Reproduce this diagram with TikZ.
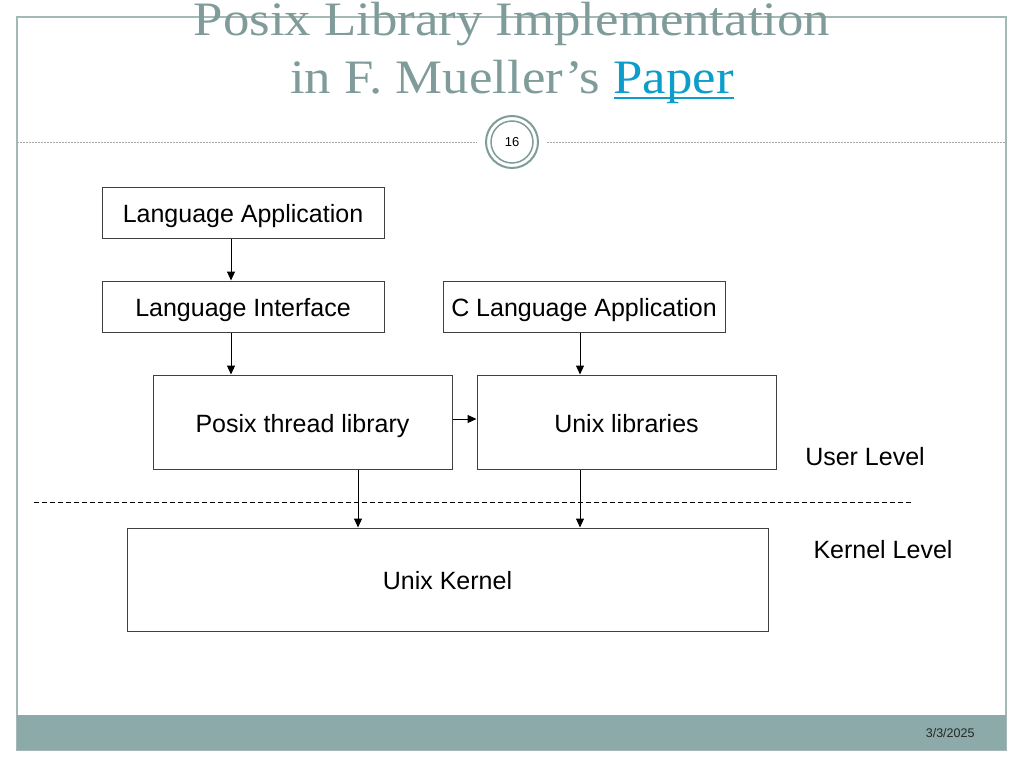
\documentclass[tikz,border=0pt]{standalone}
\usepackage{fontspec}
\setmainfont{Liberation Sans}
\newfontfamily\titlefont[FakeStretch=1.1]{Liberation Serif}
\usetikzlibrary{positioning,arrows.meta}
\definecolor{slideGray}{HTML}{7F9C9A}
\definecolor{frameGray}{HTML}{A3B8B7}
\definecolor{barGray}{HTML}{8CAAAA}
\definecolor{linkBlue}{HTML}{0C9DCB}
\newcommand\linkword[1]{\sbox0{#1}\rlap{\rule[-6pt]{\wd0}{2pt}}\usebox0}

\begin{document}
\begin{tikzpicture}[x=1pt,y=-1pt,
    box/.style={draw=black!75, line width=1pt, inner sep=0pt, text height=20pt, text depth=0pt, font=\fontsize{25}{30}\selectfont},
    wide/.style={box, minimum width=282pt, minimum height=51pt},
    tall/.style={box, minimum width=299pt, minimum height=94pt},
    arr/.style={-{Triangle[length=9pt,width=8pt]}, line width=1pt, black}]
    \path[use as bounding box, fill=white] (0,0) rectangle (1024,768);
    \draw[frameGray, line width=1.5pt] (17,17) rectangle (1006,750);
    \fill[barGray] (17,715) rectangle (1006,750);
    \node[anchor=base, text=slideGray, font=\titlefont\fontsize{48}{56}\selectfont] (titleTop) at (512,36) {Posix Library Implementation};
    \node[anchor=base, text=slideGray, font=\titlefont\fontsize{48}{56}\selectfont] (titleBottom) at (512,93) {in F. Mueller’s \textcolor{linkBlue}{\linkword{Paper}}};
    \node[circle, draw=slideGray, line width=2pt, fill=white, minimum size=52pt, font=\fontsize{13}{15}\selectfont] (pageNo) at (512,142) {16};
    \draw[slideGray, line width=1.5pt] (pageNo.center) circle [radius=21pt];
    \coordinate (headL) at (17,142);
    \coordinate (headR) at (1006,142);
    \draw[gray!70, line width=1pt, dash pattern=on 2pt off 1pt] (headL) -- ([xshift=-8pt]pageNo.west);
    \draw[gray!70, line width=1pt, dash pattern=on 2pt off 1pt] ([xshift=8pt]pageNo.east) -- (headR);
    \node[wide] (langApp) at (243,212.5) {Language Application};
    \node[wide, below=42pt of langApp] (langIface) {Language Interface};
    \node[wide, right=58pt of langIface] (cLangApp) {C Language Application};
    \node[tall] (posixLib) at (302.5,422) {Posix thread library};
    \node[tall, right=24pt of posixLib] (unixLibs) {Unix libraries};
    \node[box, minimum width=641pt, minimum height=103pt] (unixKernel) at (447.5,579.5) {Unix Kernel};
    \draw[arr] ([xshift=-12pt]langApp.south) -- ([xshift=-12pt]langIface.north);
    \draw[arr] ([xshift=-12pt]langIface.south) -- ([xshift=-12pt]langIface.south |- posixLib.north);
    \draw[arr] ([xshift=-4pt]cLangApp.south) -- ([xshift=-4pt]cLangApp.south |- unixLibs.north);
    \draw[arr] ([yshift=3pt]posixLib.east) -- ([yshift=3pt]unixLibs.west);
    \draw[arr] ([xshift=55.5pt]posixLib.south) -- ([xshift=55.5pt]posixLib.south |- unixKernel.north);
    \draw[arr] ([xshift=-46.5pt]unixLibs.south) -- ([xshift=-46.5pt]unixLibs.south |- unixKernel.north);
    \coordinate (levelL) at (34,502);
    \coordinate (levelR) at (912,502);
    \draw[line width=1pt, dash pattern=on 5pt off 3pt] (levelL) -- (levelR);
    \node[font=\fontsize{25}{30}\selectfont] (userLvl) at (865,457) {User Level};
    \node[font=\fontsize{25}{30}\selectfont] (kernelLvl) at (883,550) {Kernel Level};
    \node[anchor=base east, font=\fontsize{12.5}{15}\selectfont, text=black!85] (slideDate) at (978,737) {3/3/2025};
\end{tikzpicture}
\end{document}
